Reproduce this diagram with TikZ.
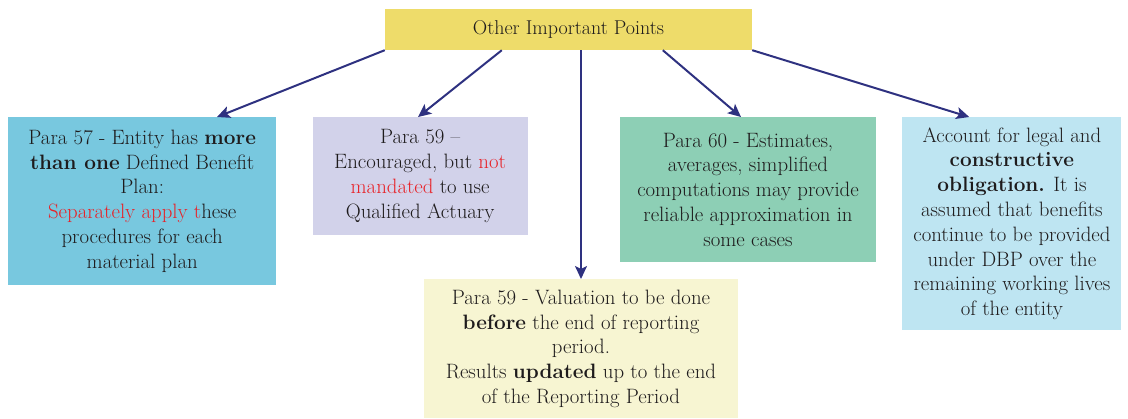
\documentclass[tikz,border=0pt]{standalone}
\usepackage{tikz}
\usetikzlibrary{arrows.meta,positioning}
\definecolor{ink}{RGB}{30,27,28}
\definecolor{alert}{RGB}{232,34,40}
\definecolor{navy}{RGB}{46,49,128}
\definecolor{topyel}{RGB}{238,220,106}
\definecolor{cyanbox}{RGB}{120,200,223}
\definecolor{lavbox}{RGB}{210,210,234}
\definecolor{greenbox}{RGB}{141,207,181}
\definecolor{skybox}{RGB}{190,229,242}
\definecolor{creambox}{RGB}{247,245,210}
\newcommand{\redtxt}[1]{\textcolor{alert}{#1}}

\begin{document}
\begin{tikzpicture}[
  B/.style={
    align=center, inner sep=3pt, text=ink,
    font=\fontsize{20.8}{24.8}\selectfont},
  Byellow/.style={B, fill=topyel, font=\fontsize{20}{22}\selectfont},
  Bcyan/.style  ={B, fill=cyanbox},
  Blav/.style   ={B, fill=lavbox},
  Bgreen/.style ={B, fill=greenbox},
  Bsky/.style   ={B, fill=skybox},
  Bcream/.style ={B, fill=creambox},
  arr/.style={
    -{Stealth[length=13pt,width=12pt,inset=3pt]},
    draw=navy, line width=2pt},
]
\useasboundingbox (0,0) rectangle (1128pt,-418pt);

%% TOP
\node[Byellow, minimum width=367pt, minimum height=41pt] (OIP)
  at (568.5pt,-29.5pt) {Other Important Points};

%% ROW 1
\node[Bcyan, minimum width=268pt, minimum height=168pt,
      anchor=north west] (P57) at (8pt,-117pt)
  {Para 57 - Entity has \textbf{more}\\
   \textbf{than one} Defined Benefit\\
   Plan:\\
   \redtxt{Separately apply t}hese\\
   procedures for each\\
   material plan};

\node[Blav, minimum width=215pt, minimum height=118pt,
      right=36pt of P57.north east, anchor=north west] (P59)
  {Para 59 --\\
   Encouraged, but \redtxt{not}\\
   \redtxt{mandated} to use\\
   Qualified Actuary};

\node[Bgreen, minimum width=256pt, minimum height=145pt,
      right=92pt of P59.north east, anchor=north west] (P60)
  {Para 60 - Estimates,\\
   averages, simplified\\
   computations may provide\\
   reliable approximation in\\
   some cases};

\node[Bsky, minimum width=219pt, minimum height=213pt,
      right=26pt of P60.north east, anchor=north west] (ACC)
  {Account for legal and\\
   \textbf{constructive}\\
   \textbf{obligation.} It is\\
   assumed that benefits\\
   continue to be provided\\
   under DBP over the\\
   remaining working lives\\
   of the entity};

%% ROW 2
\node[Bcream, minimum width=314pt, minimum height=139pt,
      anchor=north] (VAL) at (581pt,-279pt)
  {Para 59 - Valuation to be done\\
   \textbf{before} the end of reporting\\
   period.\\
   Results \textbf{updated} up to the end\\
   of the Reporting Period};

%% ARROWS
\draw[arr] (OIP.south west) -- ([xshift=209pt]P57.north west);
\draw[arr] ([xshift=117pt]OIP.south west) -- ([xshift=-2pt]P59.north);
\draw[arr] (OIP.south -| VAL.north) -- (VAL.north);
\draw[arr] ([xshift=278pt]OIP.south west) -- ([xshift=-7pt]P60.north);
\draw[arr] (OIP.south east) -- ([xshift=67pt]ACC.north west);

\end{tikzpicture}
\end{document}
